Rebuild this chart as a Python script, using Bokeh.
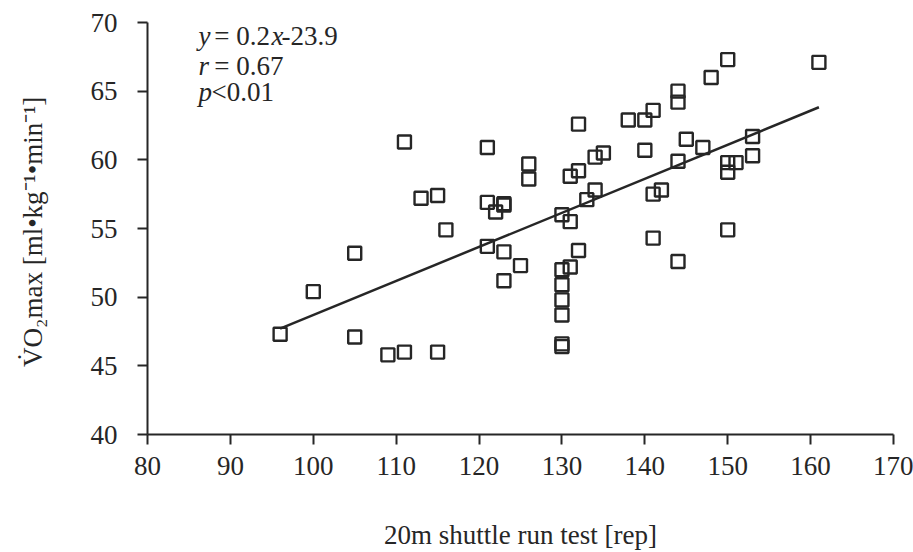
from bokeh.plotting import figure
from bokeh.models import Range1d, Label, FixedTicker, ColumnDataSource
from bokeh.embed import file_html
from bokeh.resources import INLINE

# ---- data ----
shuttle_reps = [96, 100, 105, 105, 109, 111, 111, 113, 115, 115, 116,
                121, 121, 121, 122, 123, 123, 123, 123, 125, 126, 126,
                130, 130, 130, 130, 130, 130, 130, 131, 131, 131,
                132, 132, 132, 133, 134, 134, 135, 138, 140, 140,
                141, 141, 141, 142, 144, 144, 144, 144, 145, 147, 148,
                150, 150, 150, 150, 151, 153, 153, 161]
vo2max = [47.3, 50.4, 53.2, 47.1, 45.8, 46.0, 61.3, 57.2, 57.4, 46.0, 54.9,
          60.9, 56.9, 53.7, 56.2, 56.8, 56.7, 53.3, 51.2, 52.3, 59.7, 58.6,
          56.0, 52.0, 50.9, 49.8, 48.7, 46.6, 46.4, 55.5, 58.8, 52.2,
          62.6, 59.2, 53.4, 57.1, 57.8, 60.2, 60.5, 62.9, 62.9, 60.7,
          63.6, 57.5, 54.3, 57.8, 65.0, 64.2, 59.9, 52.6, 61.5, 60.9, 66.0,
          67.3, 59.8, 59.1, 54.9, 59.8, 61.7, 60.3, 67.1]

fit_slope = 0.248
fit_intercept = 23.9

x_ticks = [80, 90, 100, 110, 120, 130, 140, 150, 160, 170]
y_ticks = [40, 45, 50, 55, 60, 65, 70]

x_label = "20m shuttle run test [rep]"
y_label = "V\u0307O\u2082max  [ml\u2022kg\u207b\u00b9\u2022min\u207b\u00b9]"

INK = "#262626"
FONT = "Liberation Serif"

p = figure(width=913, height=552,
           x_range=Range1d(80, 170), y_range=Range1d(40, 70),
           output_backend="svg", toolbar_location=None,
           min_border_left=147, min_border_right=20,
           min_border_top=22, min_border_bottom=117)
p.xgrid.visible = False
p.ygrid.visible = False
p.outline_line_color = None
p.background_fill_color = "white"
p.border_fill_color = "white"

src = ColumnDataSource(dict(x=shuttle_reps, y=vo2max))
p.scatter("x", "y", source=src, marker="square", size=13,
          fill_color=None, line_color=INK, line_width=2.4)

fx = [min(shuttle_reps), max(shuttle_reps)]
fy = [fit_slope * v + fit_intercept for v in fx]
p.line(fx, fy, line_color=INK, line_width=2.5)

for ax, ticks in ((p.xaxis, x_ticks), (p.yaxis, y_ticks)):
    ax.ticker = FixedTicker(ticks=ticks)
    ax.minor_tick_line_color = None
    ax.major_tick_in = 0
    ax.major_tick_out = 10
    ax.axis_line_width = 2
    ax.major_tick_line_width = 2
    ax.axis_line_color = INK
    ax.major_tick_line_color = INK
    ax.major_label_text_font = FONT
    ax.major_label_text_font_size = "27px"
    ax.major_label_text_color = INK
    ax.axis_label_text_font = FONT
    ax.axis_label_text_font_style = "normal"
    ax.axis_label_text_font_size = "27px"
    ax.axis_label_text_color = INK

p.xaxis.major_label_standoff = 12
p.xaxis.axis_label = x_label
p.xaxis.axis_label_standoff = 42
p.yaxis.major_label_standoff = 20
p.yaxis.axis_label = y_label
p.yaxis.axis_label_standoff = 40

# ---- regression annotation (pieces so that variables are italic) ----
ann_rows = [
    [("y", "italic", 86.15), ("= 0.2", "normal", 88.06),
     ("x", "italic", 94.96), ("-23.9", "normal", 96.16)],
    [("r", "italic", 86.15), ("= 0.67", "normal", 88.06)],
    [("p", "italic", 86.15), ("<0.01", "normal", 87.72)],
]
ann_y = [69.02, 66.80, 64.91]
for row, yy in zip(ann_rows, ann_y):
    for txt, style, xx in row:
        p.add_layout(Label(x=xx, y=yy, text=txt, text_font=FONT,
                           text_font_style=style, text_font_size="27px",
                           text_color=INK, text_baseline="alphabetic",
                           text_align="left"))

open("out.html", "w").write(file_html(p, INLINE))
